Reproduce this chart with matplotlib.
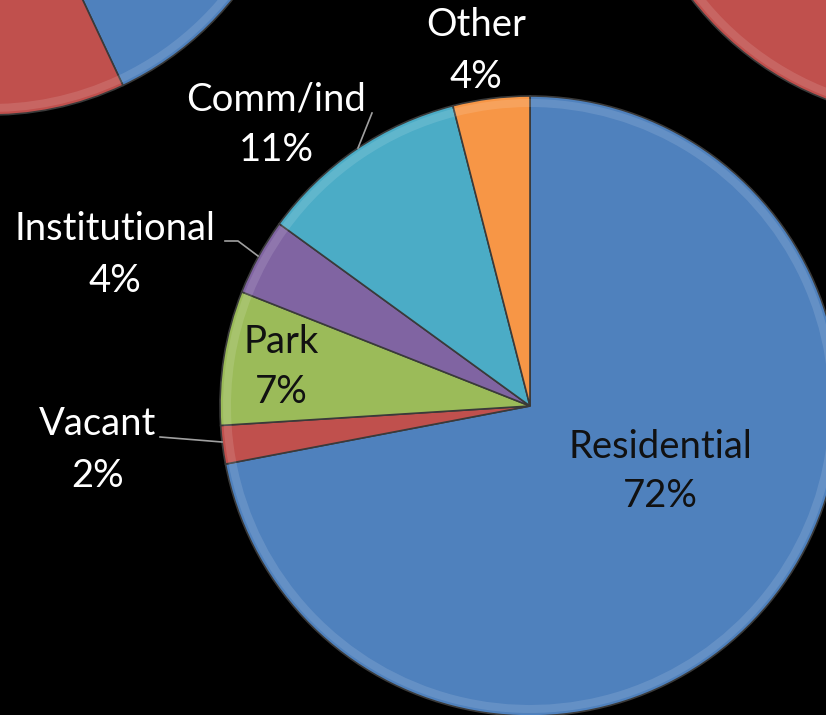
import matplotlib.pyplot as plt

# main pie: land use shares (percent), clockwise from 12 o'clock
labels = ["Residential", "Vacant", "Park", "Institutional", "Comm/ind", "Other"]
values = [72, 2, 7, 4, 11, 4]
colors = ["#4f81bd", "#c0504d", "#9bbb59", "#8064a2", "#4bacc6", "#f79646"]

# neighbouring pies, only partly visible at the top corners
left_values = [43, 30, 8, 5, 10, 4]
right_values = [40, 45, 5, 3, 4, 3]

W, H = 826, 715
R = 310

fig = plt.figure(figsize=(W / 100, H / 100), dpi=100, facecolor="black")
ax = fig.add_axes([0, 0, 1, 1])
ax.set_facecolor("black")


def py(y):
    # pixel row (from top) -> data y (from bottom)
    return H - y


def draw_pie(vals, center):
    ax.pie(vals, colors=colors, startangle=90, counterclock=False,
           center=center, radius=R, frame=True,
           wedgeprops=dict(edgecolor="#3a3a3a", linewidth=1.2))
    # soft bevel highlight along the rim
    ax.pie(vals, colors=["white"] * len(vals), startangle=90, counterclock=False,
           center=center, radius=R - 3, frame=True,
           wedgeprops=dict(width=8, alpha=0.12, linewidth=0))


draw_pie(left_values, (-9, py(-195)))
draw_pie(right_values, (937, py(-190)))
draw_pie(values, (530, py(406)))

# label positions (pixel centres of name line and percent line)
label_pos = {
    "Residential": (660, 447, 496),
    "Vacant": (98, 424, 476),
    "Park": (281, 342, 392),
    "Institutional": (115, 229, 281),
    "Comm/ind": (276, 100, 150),
    "Other": (476, 25, 77),
}
inside = {"Residential", "Park"}

for name, v in zip(labels, values):
    x, y1, y2 = label_pos[name]
    c = "#111111" if name in inside else "white"
    ax.text(x, py(y1), name, ha="center", va="center", fontsize=27.5,
            family="Lato", color=c)
    ax.text(x, py(y2), f"{v}%", ha="center", va="center", fontsize=27.5,
            family="Lato", color=c)

# leader lines
lc = "#a0a0a0"
ax.plot([160, 222], [py(437), py(442)], color=lc, lw=1.2)
ax.plot([225, 238, 258], [py(241), py(241), py(256)], color=lc, lw=1.2)
ax.plot([372, 358], [py(113), py(148)], color=lc, lw=1.2)

ax.set_xlim(0, W)
ax.set_ylim(0, H)
ax.set_aspect("equal")
ax.axis("off")

fig.savefig("out.png", dpi=100, facecolor="black")
